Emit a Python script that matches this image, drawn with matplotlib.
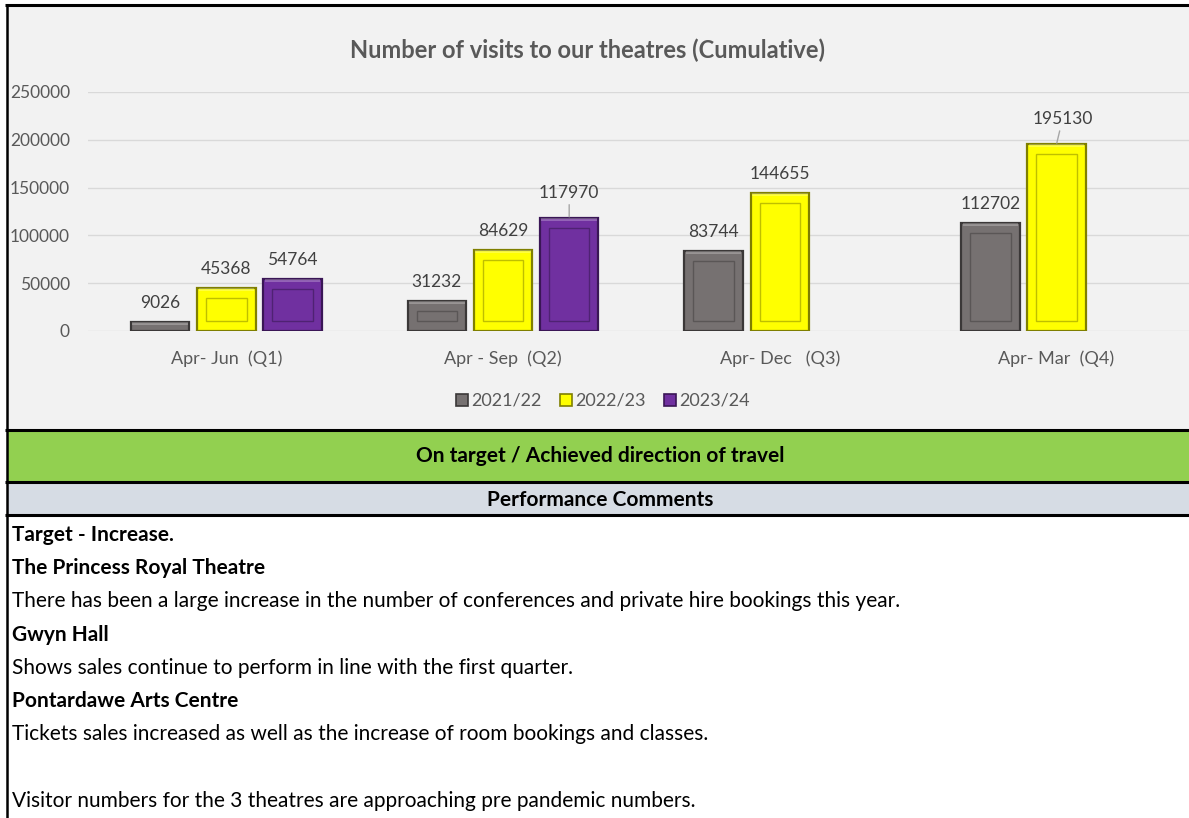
import numpy as np
import matplotlib.pyplot as plt
from matplotlib.patches import Patch, Rectangle

plt.rcParams['font.family'] = ['Lato', 'DejaVu Sans']

# ---- data ----
categories = ['Apr- Jun  (Q1)', 'Apr - Sep  (Q2)', 'Apr- Dec   (Q3)', 'Apr- Mar  (Q4)']
series = ['2021/22', '2022/23', '2023/24']
visits_2122 = [9026, 31232, 83744, 112702]
visits_2223 = [45368, 84629, 144655, 195130]
visits_2324 = [54764, 117970, np.nan, np.nan]
yticks = [0, 50000, 100000, 150000, 200000, 250000]

title = 'Number of visits to our theatres (Cumulative)'
status = 'On target / Achieved direction of travel'
comments_header = 'Performance Comments'
comments = [
    ('Target - Increase.', True),
    ('The Princess Royal Theatre', True),
    ('There has been a large increase in the number of conferences and private hire bookings this year.', False),
    ('Gwyn Hall', True),
    ('Shows sales continue to perform in line with the first quarter.', False),
    ('Pontardawe Arts Centre', True),
    ('Tickets sales increased as well as the increase of room bookings and classes.', False),
    ('', False),
    ('Visitor numbers for the 3 theatres are approaching pre pandemic numbers.', False),
]

faces = ['#767171', '#ffff00', '#7030a0']
edges = ['#3b3838', '#7f7f00', '#3a1656']
inner = ['#5a5656', '#bfbf00', '#4f2273']

W, H = 1189, 818
fig = plt.figure(figsize=(W / 100, H / 100), dpi=100)
fig.patch.set_facecolor('white')

# background layer in pixel coordinates
bg = fig.add_axes([0, 0, 1, 1])
bg.set_xlim(0, W)
bg.set_ylim(H, 0)
bg.axis('off')
bg.add_patch(Rectangle((7, 5), W, 424, facecolor='#f2f2f2', edgecolor='none'))
bg.add_patch(Rectangle((7, 430), W, 52, facecolor='#92d050', edgecolor='none'))
bg.add_patch(Rectangle((7, 483), W, 32, facecolor='#d6dce4', edgecolor='none'))
for yy, lw in [(5, 2.2), (429.5, 2.2), (482, 2.2), (515, 2.2)]:
    bg.plot([5, W], [yy, yy], color='black', lw=lw, solid_capstyle='butt')
bg.plot([7, 7], [5, H], color='black', lw=1.8)
bg.text(600, 456, status, ha='center', va='center', fontsize=15, fontweight='bold', color='black')
bg.text(600, 500, comments_header, ha='center', va='center', fontsize=15, fontweight='bold', color='black')
ty = 535
for txt, bold in comments:
    if txt:
        bg.text(12, ty, txt, ha='left', va='center', fontsize=15,
                fontweight='bold' if bold else 'normal', color='black')
    ty += 33.2
bg.text(588, 50, title, ha='center', va='center', fontsize=17, fontweight='bold', color='#595959')

# chart axes
ax = fig.add_axes([88 / W, (H - 331) / H, 1106.8 / W, 239 / H])
ax.set_facecolor('none')
ax.set_xlim(-0.5, 3.5)
ax.set_ylim(0, 250000)
ax.set_yticks(yticks)
ax.set_yticklabels([str(v) for v in yticks])
ax.yaxis.grid(True, color='#d9d9d9', lw=1)
ax.set_axisbelow(True)
for s in ax.spines.values():
    s.set_visible(False)
ax.tick_params(length=0, labelsize=12.5, labelcolor='#595959')
ax.tick_params(axis='y', pad=13)
ax.tick_params(axis='x', pad=14, labelsize=13)
ax.set_xticks(range(len(categories)))
ax.set_xticklabels(categories)

x = np.arange(len(categories))
step, width = 0.239, 0.211
ppx = 250000 / 239.0  # data units per pixel vertically
all_vals = [visits_2122, visits_2223, visits_2324]
for i, vals in enumerate(all_vals):
    vals = np.array(vals, dtype=float)
    xs = x + (i - 1) * step
    ok = ~np.isnan(vals)
    ax.bar(xs[ok], vals[ok], width=width, color=faces[i], edgecolor=edges[i], lw=1.6, zorder=3)
    # bevel: inner rectangle
    big = ok & (vals > 25 * ppx)
    ax.bar(xs[big], vals[big] - 20 * ppx, bottom=10 * ppx, width=width - 2 * 9 / 276.7,
           color='none', edgecolor=inner[i], lw=1.0, zorder=4)
    # light top rim
    ax.bar(xs[ok], np.minimum(vals[ok], 3 * ppx), bottom=vals[ok] - np.minimum(vals[ok], 3 * ppx),
           width=width - 0.01, color='white', alpha=0.25, lw=0, zorder=4)
    for xv, v in zip(xs[ok], vals[ok]):
        if v in (117970, 195130):
            dx = 0 if v == 117970 else 6
            ax.annotate(str(int(v)), xy=(xv, v), xytext=(dx * 0.72, 25 * 0.72),
                        textcoords='offset points', ha='center', va='center',
                        fontsize=12.5, color='#404040',
                        arrowprops=dict(arrowstyle='-', color='#a6a6a6', lw=1.0, shrinkA=0.5, shrinkB=1))
        else:
            ax.annotate(str(int(v)), xy=(xv, v), xytext=(0, 19 * 0.72),
                        textcoords='offset points', ha='center', va='center',
                        fontsize=12.5, color='#404040')

handles = [Patch(facecolor=faces[i], edgecolor=edges[i], lw=1.2) for i in range(3)]
fig.legend(handles, series, loc='center', bbox_to_anchor=(603 / W, 1 - 401 / H), ncol=3,
           frameon=False, handlelength=0.65, handleheight=0.65, handletextpad=0.2,
           columnspacing=1.0, fontsize=13, labelcolor='#595959')

fig.savefig('out.png', dpi=100, facecolor='white')
